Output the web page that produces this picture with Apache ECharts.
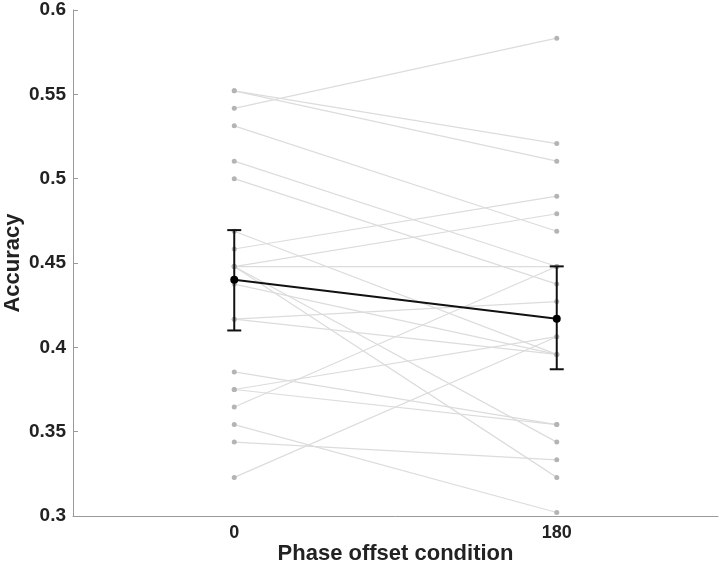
<!DOCTYPE html>
<html>
<head>
<meta charset="utf-8">
<script src="https://cdn.jsdelivr.net/npm/echarts@6/dist/echarts.min.js"></script>
<style>
  html, body { margin: 0; padding: 0; background: #fff; }
  #chart { width: 720px; height: 570px; }
</style>
</head>
<body>
<div id="chart"></div>
<script>
// conditions on the x axis
const conditions = ["0", "180"];

// per-subject accuracy, same order in both arrays
const acc0 = [0.5417, 0.5521, 0.5521, 0.5313, 0.5104, 0.5000, 0.4583, 0.4479, 0.4479, 0.4688, 0.4479,
  0.4479, 0.4375, 0.4167, 0.4167, 0.3854, 0.3750, 0.3750, 0.3646, 0.3542, 0.3438, 0.3229];
const acc180 = [0.5833, 0.5208, 0.5104, 0.4688, 0.4479, 0.4375, 0.4896, 0.4792, 0.4479, 0.3958, 0.3438,
  0.3229, 0.3958, 0.4271, 0.3958, 0.3542, 0.4063, 0.3542, 0.4479, 0.3021, 0.3333, 0.4063];

// group mean and error bar ends
const meanAcc = [0.440, 0.417];
const errLow = [0.410, 0.387];
const errHigh = [0.4695, 0.448];

const font = "'Liberation Sans', Arial, sans-serif";

const subjectSeries = acc0.map((v, i) => ({
  type: "line",
  data: [v, acc180[i]],
  symbol: "circle",
  symbolSize: 5,
  lineStyle: { color: "#dcdcdc", width: 1.2 },
  itemStyle: { color: "#b4b4b4" },
  silent: true,
  z: 2,
}));

const option = {
  animation: false,
  grid: { left: 73, right: 2, top: 10, bottom: 54, outerBoundsMode: "none" },
  xAxis: {
    type: "category",
    data: conditions,
    boundaryGap: true,
    name: "Phase offset condition",
    nameLocation: "middle",
    nameGap: 27,
    nameMoveOverlap: false,
    nameTextStyle: { fontFamily: font, fontWeight: "bold", fontSize: 22, color: "#222" },
    axisLine: { lineStyle: { color: "#9a9a9a", width: 1 } },
    axisTick: { inside: true, alignWithLabel: true, length: 5, lineStyle: { color: "#9a9a9a" } },
    axisLabel: { fontFamily: font, fontWeight: "bold", fontSize: 18, color: "#222", margin: 8 },
    splitLine: { show: false },
  },
  yAxis: {
    type: "value",
    min: 0.3,
    max: 0.6,
    interval: 0.05,
    name: "Accuracy",
    nameLocation: "middle",
    nameGap: 49,
    nameMoveOverlap: false,
    nameTextStyle: { fontFamily: font, fontWeight: "bold", fontSize: 22, color: "#222" },
    axisLine: { show: true, lineStyle: { color: "#9a9a9a", width: 1 } },
    axisTick: { show: true, inside: true, length: 5, lineStyle: { color: "#9a9a9a" } },
    axisLabel: { fontFamily: font, fontWeight: "bold", fontSize: 19, color: "#222", margin: 7 },
    splitLine: { show: false },
  },
  series: [
    ...subjectSeries,
    {
      type: "custom",
      data: conditions.map((c, i) => [i, errLow[i], errHigh[i]]),
      renderItem: (params, api) => {
        const lo = api.coord([api.value(0), api.value(1)]);
        const hi = api.coord([api.value(0), api.value(2)]);
        const w = 7;
        const style = { stroke: "#111", lineWidth: 2 };
        return {
          type: "group",
          children: [
            { type: "line", shape: { x1: lo[0], y1: lo[1], x2: hi[0], y2: hi[1] }, style },
            { type: "line", shape: { x1: hi[0] - w, y1: hi[1], x2: hi[0] + w, y2: hi[1] }, style },
            { type: "line", shape: { x1: lo[0] - w, y1: lo[1], x2: lo[0] + w, y2: lo[1] }, style },
          ],
        };
      },
      z: 5,
    },
    {
      type: "line",
      data: meanAcc,
      symbol: "circle",
      symbolSize: 8,
      lineStyle: { color: "#111", width: 2 },
      itemStyle: { color: "#000" },
      z: 6,
    },
  ],
};

const myChart = echarts.init(document.getElementById("chart"));
myChart.setOption(option);
</script>
</body>
</html>
